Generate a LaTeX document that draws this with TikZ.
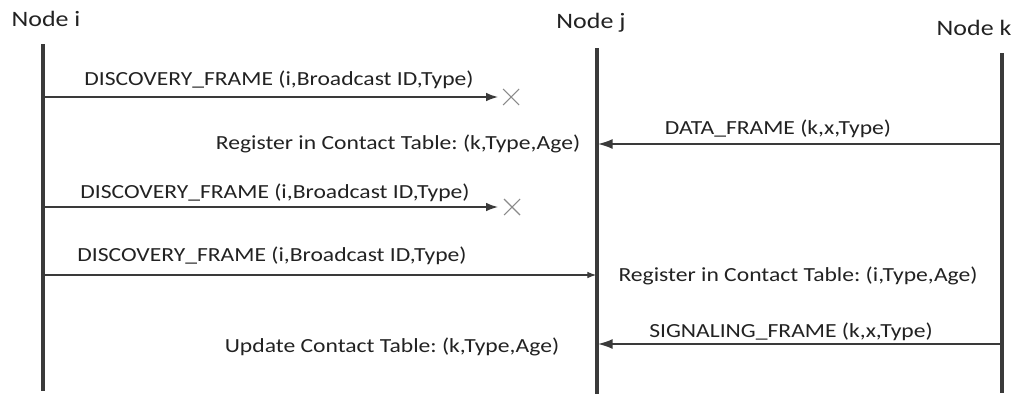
\documentclass[tikz,border=0pt]{standalone}
\usepackage{fontspec}
\setmainfont{Carlito}[FakeStretch=1.18]
\frenchspacing
\usetikzlibrary{arrows.meta}
\definecolor{ink}{HTML}{222222}
\definecolor{wire}{HTML}{3A3A3A}
\definecolor{lost}{HTML}{8A8A8A}
\begin{document}
\begin{tikzpicture}[x=0.75pt,y=-0.75pt,
  font=\fontsize{15}{18}\selectfont,
  lbl/.style={text=ink,inner sep=0pt,anchor=base},
  head/.style={text=ink,inner sep=0pt,anchor=base,font=\fontsize{16.5}{20}\selectfont},
  life/.style={draw=wire,line width=2.4pt},
  msg/.style={draw=wire,line width=1.1pt,-{Latex[length=9pt,width=6.5pt]}},
  bigmsg/.style={draw=wire,line width=1.1pt,-{Latex[length=11pt,width=7.5pt]}},
  msgthin/.style={draw=wire,line width=0.8pt,-{Latex[length=6.5pt,width=5pt]}},
  lostmark/.style={draw=lost,line width=0.8pt}]
\useasboundingbox (0,0) rectangle (1016,400);

% participants
\node[head] (ni) at (46,26) {Node i};
\node[head] (nj) at (591,28) {Node j};
\node[head] (nk) at (974,35) {Node k};

% lifelines
\coordinate (ti) at (43,44);  \coordinate (bi) at (43,391);
\coordinate (tj) at (597,48); \coordinate (bj) at (597,394);
\coordinate (tk) at (1002,53); \coordinate (bk) at (1002,393);
\draw[life] (ti) -- (bi);
\draw[life] (tj) -- (bj);
\draw[life] (tk) -- (bk);

% message 1: lost discovery frame
\coordinate (a1) at (43,97); \coordinate (e1) at (498,97);
\draw[msg] (a1) -- (e1);
\coordinate (x1) at (511,97);
\draw[lostmark] ([shift={(-8,-8)}]x1) -- ([shift={(8,8)}]x1)
                ([shift={(-8,8)}]x1) -- ([shift={(8,-8)}]x1);
\node[lbl] (l1) at (279,85) {DISCOVERY\_FRAME (i,Broadcast ID,Type)};

% message 2: data frame k -> j
\coordinate (a2) at (1002,144); \coordinate (e2) at (598,144);
\draw[bigmsg] (a2) -- (e2);
\node[lbl] (l2) at (778,134) {DATA\_FRAME (k,x,Type)};
\node[lbl] (r2) at (398,149) {Register in Contact Table: (k,Type,Age)};

% message 3: lost discovery frame
\coordinate (a3) at (43,207); \coordinate (e3) at (498,207);
\draw[msg] (a3) -- (e3);
\coordinate (x3) at (512,207);
\draw[lostmark] ([shift={(-8,-8)}]x3) -- ([shift={(8,8)}]x3)
                ([shift={(-8,8)}]x3) -- ([shift={(8,-8)}]x3);
\node[lbl] (l3) at (275,198) {DISCOVERY\_FRAME (i,Broadcast ID,Type)};

% message 4: discovery frame i -> j
\coordinate (a4) at (43,275); \coordinate (e4) at (596,275);
\draw[msgthin] (a4) -- (e4);
\node[lbl] (l4) at (272,261) {DISCOVERY\_FRAME (i,Broadcast ID,Type)};
\node[lbl] (r4) at (798,281) {Register in Contact Table: (i,Type,Age)};

% message 5: signaling frame k -> j
\coordinate (a5) at (1002,344); \coordinate (e5) at (598,344);
\draw[bigmsg] (a5) -- (e5);
\node[lbl] (l5) at (791,337) {SIGNALING\_FRAME (k,x,Type)};
\node[lbl] (r5) at (392,352) {Update Contact Table: (k,Type,Age)};
\end{tikzpicture}
\end{document}
